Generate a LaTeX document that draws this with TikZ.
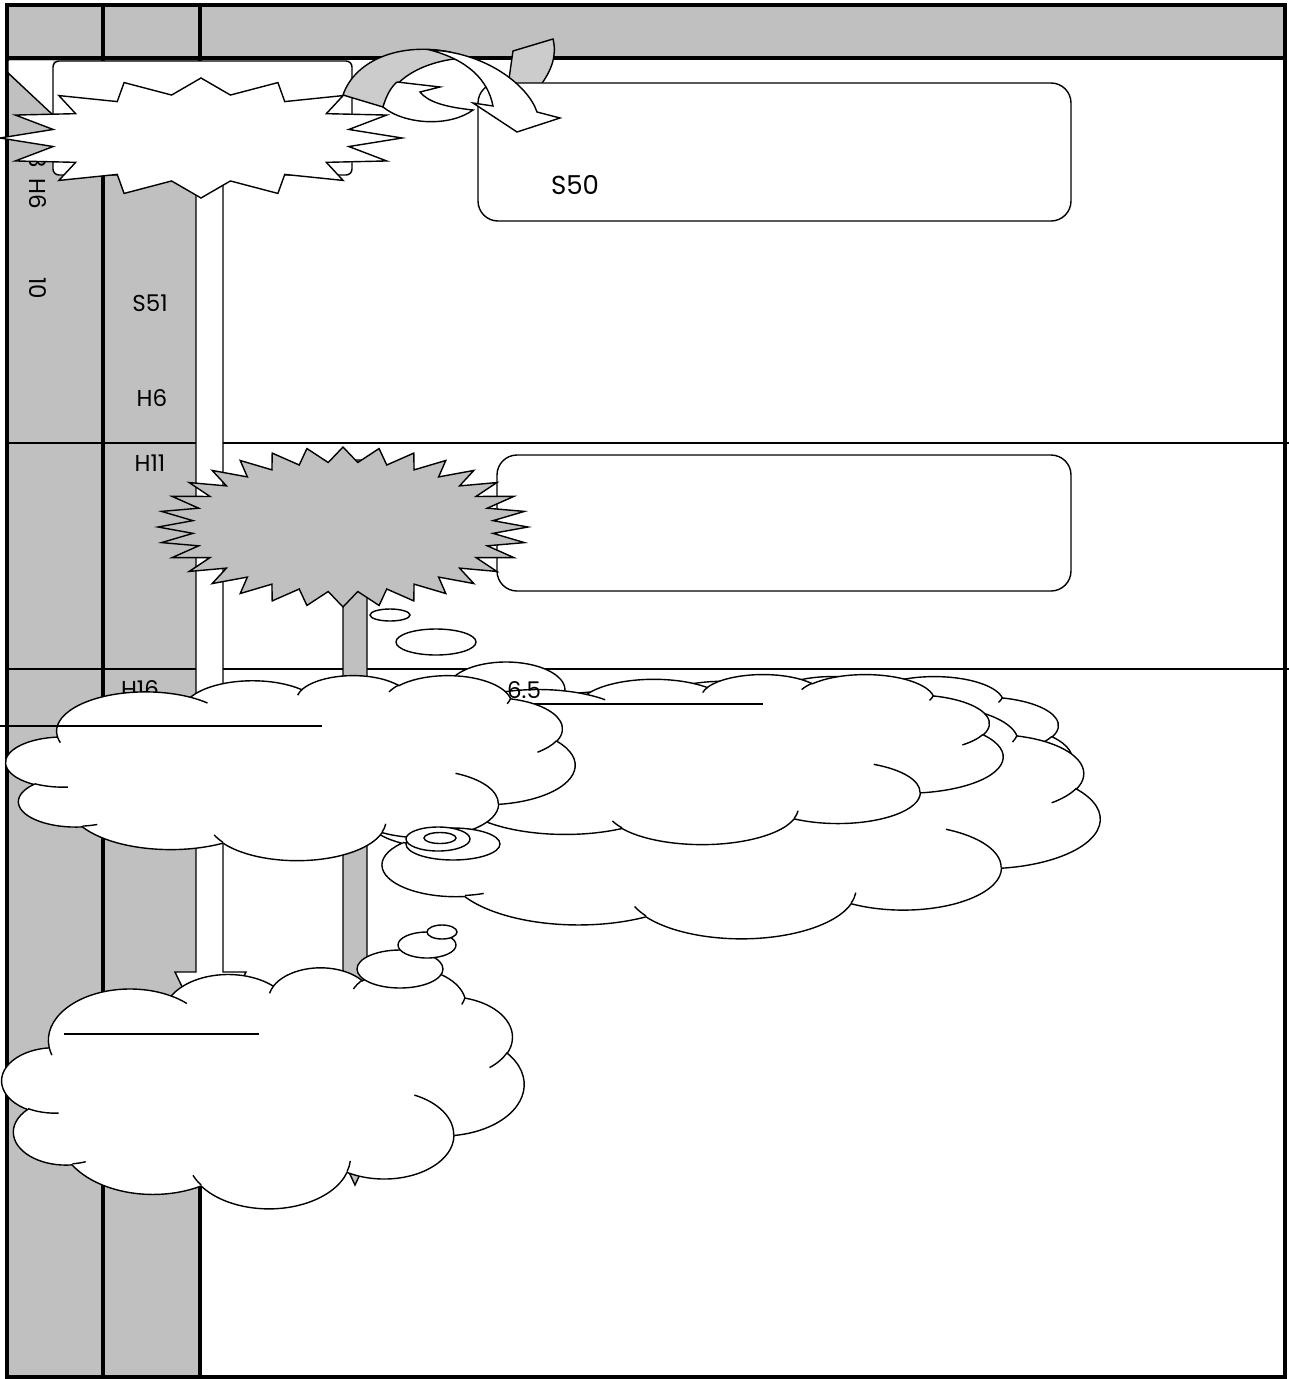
\documentclass[tikz,border=0pt]{standalone}
\usepackage{fontspec}
\setmainfont{Poppins}
\definecolor{tg}{HTML}{C0C0C0}
\definecolor{ag}{HTML}{CCCCCC}
% Word-style cloud geometry (native box 432 x 432), arcs given by visual angles
\newcommand\defarc[6]{% prefix, name, wR, hR, start, sweep
  \pgfmathsetmacro\tmpa{atan2(#3*sin(#5),#4*cos(#5))}%
  \pgfmathsetmacro\tmpb{atan2(#3*sin(#5+#6),#4*cos(#5+#6))}%
  \pgfmathsetmacro\tmpd{mod(\tmpb-\tmpa+720,360)}%
  \expandafter\xdef\csname #1S#2\endcsname{\tmpa}%
  \expandafter\xdef\csname #1D#2\endcsname{\tmpd}%
  \expandafter\xdef\csname #1W#2\endcsname{#3}%
  \expandafter\xdef\csname #1H#2\endcsname{#4}%
}
\defarc{o}{a}{67.53}{91.90}{-190.4875}{123.7805}
\defarc{o}{b}{53.33}{72.67}{-144.1024}{89.9452}
\defarc{o}{c}{43.65}{59.45}{-145.8079}{99.7230}
\defarc{o}{d}{48.57}{65.95}{-130.9861}{117.2417}
\defarc{o}{e}{53.33}{72.73}{-78.7089}{109.0269}
\defarc{o}{f}{67.75}{92.20}{-46.2673}{130.2690}
\defarc{o}{g}{57.85}{78.67}{0.6250}{114.0333}
\defarc{o}{h}{67.52}{92.15}{22.4516}{115.1726}
\defarc{o}{i}{77.20}{105.43}{66.2426}{75.7110}
\defarc{o}{j}{43.60}{59.18}{-274.9421}{146.7356}
\defarc{o}{k}{43.45}{59.45}{-246.8285}{152.5189}
\defarc{i}{a}{43.45}{59.45}{86.742}{26.4295}
\defarc{i}{b}{43.60}{59.18}{73.6105}{11.4475}
\defarc{i}{c}{67.52}{92.15}{137.624}{14.0811}
\defarc{i}{d}{67.52}{92.15}{6.4533}{15.9984}
\defarc{i}{e}{57.85}{78.67}{-70.2924}{70.9174}
\defarc{i}{f}{53.33}{72.73}{30.3180}{27.7515}
\defarc{i}{g}{48.57}{65.95}{13.7443}{14.8589}
\defarc{i}{h}{48.57}{65.95}{-149.1815}{18.1954}
\defarc{i}{i}{43.65}{59.45}{-163.4943}{17.6864}
\defarc{i}{j}{67.53}{91.90}{-66.7070}{12.3194}
\defarc{i}{k}{67.53}{91.90}{157.6544}{11.8582}
\newcommand\wcloud[4]{% x0 y0 width height
  \pgfmathsetmacro\cldsx{#3/432}%
  \pgfmathsetmacro\cldsy{#4/432}%
  \begin{scope}[shift={(#1,#2)}, xscale=\cldsx, yscale=\cldsy]
    \filldraw[cloudline, fill=white] (39.00,143.70)
      \foreach \n in {a,...,k} {arc[start angle=\csname oS\n\endcsname, delta angle=\csname oD\n\endcsname, x radius=\csname oW\n\endcsname, y radius=\csname oH\n\endcsname]} -- cycle;
    \foreach \n/\px/\py in {a/46.93/261.77, b/69.28/348.99, c/164.78/390.90, d/288.27/347.51, e/341.29/229.54, f/417.98/153.54, g/383.24/54.26, h/290.78/39.52, i/221.41/47.20, j/140.00/51.92, k/41.27/157.89}
      {\draw[cloudline] (\px,\py) arc[start angle=\csname iS\n\endcsname, delta angle=\csname iD\n\endcsname, x radius=\csname iW\n\endcsname, y radius=\csname iH\n\endcsname];}
  \end{scope}}
\begin{document}
\begin{tikzpicture}[x=1pt,y=-1pt,
  tbl/.style={line width=3.4pt},
  tline/.style={line width=1.8pt},
  shp/.style={draw=black, line width=1.4pt, line join=miter},
  lbl/.style={font=\fontsize{23pt}{27pt}\selectfont, inner sep=0pt},
  cloudline/.style={draw=black, line width=1.4pt},
  rbox/.style={draw=black, fill=white, line width=1.4pt, rounded corners=20pt},
  bubble/.style={draw=black, fill=white, line width=1.4pt},
  rule/.style={line width=2.4pt}
]
\useasboundingbox (0,0) rectangle (1289,1379);
\fill[white] (0,0) rectangle (1289,1379);
% table background
\fill[tg] (7,5) rectangle (1285,58);
\fill[tg] (7,58) rectangle (200,1377);
% table lines
\draw[tline] (7,443) -- (1289,443);
\draw[tline] (7,669) -- (1289,669);
\draw[tbl] (7,58) -- (1285,58);
\draw[tbl] (103,5) -- (103,1377);
\draw[tbl] (200,5) -- (200,1377);
\draw[tbl] (7,5) rectangle (1285,1377);
% column labels
\node[lbl, rotate=-90] (l8) at (38,161) {8};
\node[lbl, rotate=-90] (lh6a) at (38,194) {H6};
\node[lbl, rotate=-90] (l10) at (38,288) {10};
\node[lbl] (s51) at (150,303) {S51};
\node[lbl] (h6) at (152,398) {H6};
\node[lbl] (h11) at (150,463) {H11};
\node[lbl] (h16) at (140,689) {H16};
% top-left white piece
\fill[white] (8.7,61) -- (53,61) -- (53,115) -- (8.7,72) -- cycle;
\draw[shp] (7,72) -- (53,115);
% white rounded rectangle behind the explosion
\draw[rbox, rounded corners=6pt] (53,61) rectangle (352,175);
% S50 box and arrow parts
\filldraw[shp, fill=ag] (513,51) -- (553,39) .. controls (557,55) and (552,70) .. (540,86) -- (508,86) -- cycle;
\node[rbox, minimum width=593pt, minimum height=138pt] (s50box) at (774.5,152) {};
\node[lbl, font=\fontsize{26pt}{30pt}\selectfont] (s50) at (575,185) {S50};
% curved arrow
\filldraw[shp, fill=ag] (343,95) .. controls (355,60) and (400,42) .. (450,52) -- (462,58) .. controls (420,62) and (392,80) .. (383,107) -- cycle;
\filldraw[shp, fill=white] (397,82) -- (440,87) -- (420,92) .. controls (428,102) and (445,107) .. (473,110) .. controls (450,127) and (405,125) .. (383,107) .. controls (386,97) and (390,88) .. (397,82) -- cycle;
\filldraw[shp, fill=white] (430,50) .. controls (485,52) and (528,85) .. (537,112) -- (560,118) -- (517,132) -- (473,103) -- (493,106) .. controls (488,80) and (468,60) .. (430,50) -- cycle;
% white downward arrow
\filldraw[shp, fill=white] (196,150) -- (223,150) -- (223,972) -- (246,972) -- (210,1045) -- (175,972) -- (196,972) -- cycle;
% white explosion
\filldraw[shp, fill=white] plot[samples at={0,...,31}] ({201 + (isodd(\x) ? 0.75 : 1)*201*cos(90+\x*11.25)}, {138 - (isodd(\x) ? 0.73 : 1)*60*sin(90+\x*11.25)}) -- cycle;
% second rounded box
\node[rbox, minimum width=574pt, minimum height=136pt] (box2) at (784,523) {};
% gray arrow
\filldraw[shp, fill=tg] (343,460) -- (367,460) -- (367,1110) -- (390,1110) -- (355,1185) -- (320,1110) -- (343,1110) -- cycle;
% gray explosion
\filldraw[shp, fill=tg] plot[samples at={0,...,63}] ({343 + (isodd(\x) ? 0.815 : 1)*185*cos(90+\x*5.625)}, {527 - (isodd(\x) ? 0.81 : 1)*80*sin(90+\x*5.625)}) -- cycle;
% thought bubbles
\draw[bubble] (390,615) ellipse [x radius=20, y radius=6];
\draw[bubble] (436,642) ellipse [x radius=40, y radius=13];
\draw[bubble] (506,690) ellipse [x radius=59, y radius=28];
% back clouds
\wcloud{456}{676}{616}{170}
\wcloud{366}{706}{734}{232}
\wcloud{387}{674}{616}{170}
\draw[rule] (530,704) -- (763,704);
\node[lbl] (t65) at (524,690) {6.5};
% front cloud
\wcloud{6}{675}{569}{185}
\draw[rule] (0,726) -- (322,726);
% concentric bubbles
\draw[bubble] (453,844) ellipse [x radius=47, y radius=16];
\draw[bubble] (438,839) ellipse [x radius=32, y radius=12];
\draw[bubble] (440,838) ellipse [x radius=16, y radius=5.5];
% bottom cloud
\wcloud{2}{967}{522}{241}
\draw[rule] (64,1034) -- (259,1034);
\draw[bubble] (400,969) ellipse [x radius=43, y radius=19];
\draw[bubble] (427,945) ellipse [x radius=29, y radius=13];
\draw[bubble] (442,932) ellipse [x radius=15, y radius=7];
\end{tikzpicture}
\end{document}
